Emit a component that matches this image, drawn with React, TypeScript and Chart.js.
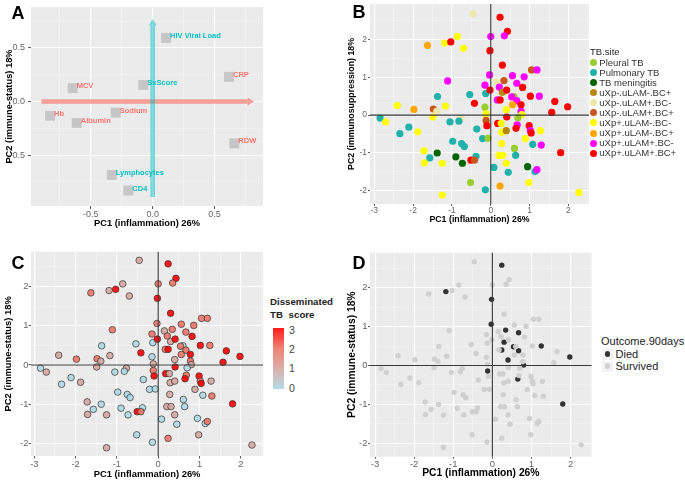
import React, { useEffect, useRef } from "react";
import { Chart, registerables } from "chart.js";
Chart.register(...registerables);

const FONT = '"Liberation Sans", Arial, Helvetica, sans-serif';
Chart.defaults.font.family = FONT;

// ---------- Panel A: PCA loadings ----------
const loadingNames = ["HIV Viral Load", "CRP", "MCV", "SxScore", "Hb", "Albumin", "Sodium", "RDW", "Lymphocytes", "CD4"];
const loadingPC1 = [0.108, 0.617, -0.647, -0.076, -0.83, -0.614, -0.299, 0.66, -0.331, -0.197];
const loadingPC2 = [0.594, 0.231, 0.125, 0.155, -0.133, -0.2, -0.103, -0.391, -0.685, -0.83];
const loadingGroup = [1, 0, 0, 1, 0, 0, 0, 0, 1, 1];
const groupColors = ["#F8766D", "#00BFC4"];
const arrowPC1 = [-0.9, 0.82];
const arrowPC2 = [-0.89, 0.77];
const aMajors = [-0.5, 0, 0.5];
const aMinors = [-0.75, -0.25, 0.25, 0.75];

// ---------- Panels B-D: patient scores ----------
const siteNames = ["Pleural TB", "Pulmonary TB", "TB meningitis", "uXp-.uLAM-.BC+", "uXp-.uLAM+.BC-", "uXp-.uLAM+.BC+", "uXp+.uLAM-.BC-", "uXp+.uLAM-.BC+", "uXp+.uLAM+.BC-", "uXp+.uLAM+.BC+"];
const siteColors = ["#9ACD32", "#20B2AA", "#006400", "#B8860B", "#EEE8AA", "#C8561E", "#FFFF00", "#FFA500", "#FF00FF", "#FF0000"];
const siteScore = [0, 0, 0, 1, 1, 2, 1, 2, 2, 3];
const scoreColors = ["rgba(173,216,230,0.9)", "rgba(214,166,161,0.9)", "rgba(238,116,102,0.9)", "rgba(255,0,0,0.9)"];
const scoreTicks = ["3", "2", "1", "0"];
const outcomeNames = ["Died", "Survived"];
const outcomeColors = ["#333333", "#D0D0D0"];
const bMajors = [-3, -2, -1, 0, 1, 2];
const bMinors = [-2.5, -1.5, -0.5, 0.5, 1.5, 2.5];

const pc1 = [
  -0.46, 0.24, 0.43, 0.0, 0.35, -0.86, -1.19, -1.03, -1.63, -0.7,
  -0.02, 0.3, 1.05, 1.19, -0.03, 0.56, 0.86, -1.11, 0.15, 0.34,
  0.67, -0.15, 0.22, 0.82, -0.54, -0.13, -0.02, 0.3, 0.41, 0.6,
  1.02, 1.25, -1.37, -0.42, 0.17, 0.24, 0.67, 0.56, 0.78, 1.65,
  1.98, 1.57, -2.41, -1.98, -1.48, -1.39, -1.17, -0.15, 0.4, -0.12,
  0.78, 0.8, -2.85, -2.71, -1.49, -0.77, -1.05, -0.82, -0.12, -0.1,
  0.18, 0.41, 0.7, -2.11, -2.34, -1.88, -0.36, 0.29, 0.4, 0.68,
  0.99, 1.02, 1.04, 1.28, -0.21, -0.07, 0.89, -0.98, -0.75, -0.68,
  0.28, 1.08, 1.3, 0.61, -1.72, -1.38, -0.9, -0.38, 0.21, 0.31,
  0.64, 1.8, -1.57, -1.71, -1.25, -0.73, -0.51, -0.42, 0.4, 0.08,
  0.45, 0.95, 1.14, 1.19, -0.52, 0.98, -0.14, 0.24, -1.25, 2.27,
  0.54, 0.65, 0.27,
];
const pc2 = [
  2.67, 2.58, 2.21, 2.07, 2.09, 2.07, 1.9, 1.93, 1.84, 1.76,
  1.7, 1.32, 1.19, 1.19, 1.06, 1.04, 1.01, 0.9, 0.87, 0.91,
  0.84, 0.79, 0.74, 0.73, 0.54, 0.57, 0.66, 0.6, 0.66, 0.49,
  0.5, 0.5, 0.49, 0.31, 0.4, 0.4, 0.38, 0.27, 0.27, 0.36,
  0.22, 0.07, 0.25, 0.15, 0.16, 0.1, 0.24, 0.21, 0.14, 0.03,
  0.1, 0.01, -0.08, -0.18, -0.05, -0.08, -0.18, -0.16, -0.14, -0.28,
  -0.22, -0.05, -0.07, -0.32, -0.49, -0.44, -0.37, -0.45, -0.41, -0.26,
  -0.28, -0.41, -0.47, -0.41, -0.62, -0.61, -0.62, -0.69, -0.75, -0.83,
  -0.75, -0.77, -0.79, -0.88, -0.94, -1.0, -1.1, -1.09, -1.06, -1.06,
  -1.06, -0.99, -1.13, -1.26, -1.27, -1.27, -1.19, -1.19, -1.27, -1.38,
  -1.51, -1.36, -1.49, -1.44, -1.78, -1.78, -1.97, -1.87, -2.11, -2.04,
  0.48, -0.35, -0.22,
];
const site = [
  4, 9, 9, 8, 8, 6, 6, 9, 7, 6,
  9, 9, 5, 8, 8, 8, 8, 8, 4, 5,
  8, 8, 8, 9, 1, 1, 9, 3, 9, 0,
  9, 8, 1, 9, 8, 9, 8, 7, 9, 9,
  9, 9, 6, 7, 5, 4, 6, 0, 6, 6,
  8, 6, 1, 6, 6, 4, 1, 1, 5, 9,
  9, 9, 0, 1, 1, 6, 1, 6, 3, 8,
  9, 8, 9, 6, 1, 0, 6, 1, 1, 1,
  6, 1, 8, 0, 6, 2, 2, 1, 6, 6,
  1, 9, 1, 6, 6, 2, 9, 5, 6, 1,
  1, 2, 1, 8, 0, 6, 1, 7, 6, 6,
  8, 9, 6,
];
const died = [
  0, 1, 0, 0, 0, 0, 1, 0, 0, 0,
  1, 0, 0, 0, 1, 0, 0, 0, 0, 1,
  1, 0, 0, 0, 0, 0, 0, 1, 0, 0,
  0, 1, 0, 0, 0, 1, 1, 0, 0, 0,
  1, 0, 0, 0, 0, 0, 0, 0, 1, 0,
  0, 1, 0, 0, 0, 0, 0, 0, 1, 0,
  0, 0, 0, 0, 0, 0, 0, 0, 0, 0,
  0, 0, 0, 0, 0, 0, 0, 0, 0, 0,
  0, 0, 0, 0, 0, 0, 0, 0, 0, 0,
  0, 1, 0, 0, 0, 0, 0, 0, 0, 0,
  0, 0, 0, 0, 0, 0, 0, 0, 0, 0,
  1, 1, 0,
];

// ---------- helpers ----------
const panelBg = {
  id: "panelBg",
  beforeDraw(chart: any) {
    const { ctx, chartArea: a } = chart;
    ctx.save();
    ctx.fillStyle = "#EBEBEB";
    ctx.fillRect(a.left, a.top, a.right - a.left, a.bottom - a.top);
    ctx.restore();
  },
};

const zeroLines = {
  id: "zeroLines",
  afterDatasetsDraw(chart: any) {
    const { ctx, chartArea: a, scales } = chart;
    const x0 = scales.x.getPixelForValue(0);
    const y0 = scales.y.getPixelForValue(0);
    ctx.save();
    ctx.strokeStyle = "#3a3a3a";
    ctx.lineWidth = 1.1;
    ctx.beginPath();
    ctx.moveTo(x0, a.top);
    ctx.lineTo(x0, a.bottom);
    ctx.moveTo(a.left, y0);
    ctx.lineTo(a.right, y0);
    ctx.stroke();
    ctx.restore();
  },
};

function drawArrow(ctx: any, x0: number, y0: number, x1: number, y1: number, color: string) {
  const ang = Math.atan2(y1 - y0, x1 - x0);
  const head = 6.5, hw = 4;
  const bx = x1 - head * Math.cos(ang), by = y1 - head * Math.sin(ang);
  ctx.strokeStyle = color;
  ctx.lineWidth = 4.6;
  ctx.lineCap = "butt";
  ctx.beginPath();
  ctx.moveTo(x0, y0);
  ctx.lineTo(bx, by);
  ctx.stroke();
  ctx.fillStyle = color;
  ctx.beginPath();
  ctx.moveTo(x1, y1);
  ctx.lineTo(bx - hw * Math.sin(ang), by + hw * Math.cos(ang));
  ctx.lineTo(bx + hw * Math.sin(ang), by - hw * Math.cos(ang));
  ctx.closePath();
  ctx.fill();
}

const arrowsPlugin = {
  id: "pcaArrows",
  beforeDatasetsDraw(chart: any) {
    const { ctx, scales } = chart;
    const { x, y } = scales;
    ctx.save();
    drawArrow(ctx, x.getPixelForValue(arrowPC1[0]), y.getPixelForValue(0), x.getPixelForValue(arrowPC1[1]), y.getPixelForValue(0), "rgba(248,118,109,0.68)");
    drawArrow(ctx, x.getPixelForValue(0), y.getPixelForValue(arrowPC2[0]), x.getPixelForValue(0), y.getPixelForValue(arrowPC2[1]), "rgba(0,191,196,0.5)");
    ctx.restore();
  },
};

const loadingLabels = {
  id: "loadingLabels",
  afterDatasetsDraw(chart: any) {
    const { ctx, scales } = chart;
    ctx.save();
    ctx.font = `bold 7.5px ${FONT}`;
    ctx.textAlign = "left";
    ctx.textBaseline = "middle";
    loadingNames.forEach((n, i) => {
      ctx.fillStyle = groupColors[loadingGroup[i]];
      ctx.fillText(n, scales.x.getPixelForValue(loadingPC1[i]) + 4, scales.y.getPixelForValue(loadingPC2[i]) - 2);
    });
    ctx.restore();
  },
};

function axis(o: any) {
  const all = [...o.majors, ...o.minors].filter((v: number) => v >= o.min && v <= o.max).sort((a: number, b: number) => a - b);
  const isMajor = (v: number) => o.majors.some((m: number) => Math.abs(m - v) < 1e-9);
  const isM = (c: any) => c && c.tick && isMajor(c.tick.value);
  return {
    type: "linear",
    position: o.pos,
    min: o.min,
    max: o.max,
    afterBuildTicks: (s: any) => {
      s.ticks = all.map((v: number) => ({ value: v }));
    },
    afterFit: (s: any) => {
      if (o.pos === "left") s.width = o.size;
      else s.height = o.size;
      s.paddingTop = 0;
      s.paddingBottom = 0;
      s.paddingLeft = 0;
      s.paddingRight = 0;
    },
    ticks: {
      autoSkip: false,
      maxRotation: 0,
      padding: o.tickPad,
      color: "#666",
      font: { family: FONT, size: o.tickFont },
      callback: (v: number) => (isMajor(v) ? o.fmt(v) : ""),
    },
    grid: {
      color: (c: any) => (isM(c) ? "#ffffff" : "rgba(255,255,255,0.6)"),
      lineWidth: (c: any) => (isM(c) ? 1.1 : 0.55),
      drawTicks: true,
      tickLength: o.tickLen,
      tickColor: (c: any) => (isM(c) ? "#555" : "rgba(0,0,0,0)"),
      tickWidth: 1,
    },
    border: { display: false },
    title: {
      display: true,
      text: o.title,
      color: "#000",
      font: { family: FONT, size: o.titleFont, weight: "bold" },
      padding: o.pos === "left" ? { top: o.titlePad, bottom: 0 } : { top: 0, bottom: o.titlePad },
    },
  };
}

function buildOptions(p: any) {
  const lh = p.titleFont * 1.2;
  return {
    responsive: false,
    animation: false,
    events: [],
    layout: { padding: { left: 0, top: p.T - p.cy, right: p.cx + p.cw - p.R, bottom: 0 } },
    plugins: { legend: { display: false }, tooltip: { enabled: false } },
    scales: {
      x: axis({ pos: "bottom", min: p.xMin, max: p.xMax, majors: p.majors, minors: p.minors, fmt: p.fmt, size: p.cy + p.ch - p.B, tickPad: p.xPad, tickLen: p.tickLen, tickFont: p.tickFont, titleFont: p.titleFont, title: p.xTitle, titlePad: p.cy + p.ch - p.xTitleY - lh / 2 }),
      y: axis({ pos: "left", min: p.yMin, max: p.yMax, majors: p.majors, minors: p.minors, fmt: p.fmt, size: p.L - p.cx, tickPad: p.yPad, tickLen: p.tickLen, tickFont: p.tickFont, titleFont: p.titleFont, title: p.yTitle, titlePad: p.yTitleX - p.cx - lh / 2 }),
    },
  };
}

const fmtA = (v: number) => v.toFixed(1);
const fmtB = (v: number) => String(v);

const specA = { cx: 0, cy: 0, cw: 340, ch: 230, L: 31, T: 1, R: 263, B: 206, xMin: -0.984, xMax: 0.892, yMin: -0.975, yMax: 0.882, majors: aMajors, minors: aMinors, fmt: fmtA, xTitle: "PC1 (inflammation) 26%", yTitle: "PC2 (immune-status) 18%", xTitleY: 223.3, yTitleX: 9, tickFont: 9, titleFont: 9.3, tickLen: 3, xPad: 0, yPad: 3 };
const specB = { cx: 340, cy: 0, cw: 260, ch: 230, L: 370, T: 1, R: 589, B: 204, xMin: -3.11, xMax: 2.53, yMin: -2.345, yMax: 2.93, majors: bMajors, minors: bMinors, fmt: fmtB, xTitle: "PC1 (inflammation) 26%", yTitle: "PC2 (immunosuppression) 18%", xTitleY: 219.3, yTitleX: 352, tickFont: 8.5, titleFont: 8.8, tickLen: 2, xPad: 0, yPad: 1 };
const specC = { cx: 0, cy: 230, cw: 268, ch: 251, L: 31, T: 251.7, R: 265, B: 456, xMin: -3.08, xMax: 2.54, yMin: -2.32, yMax: 2.89, majors: bMajors, minors: bMinors, fmt: fmtB, xTitle: "PC1 (inflammation) 26%", yTitle: "PC2 (immune-status) 18%", xTitleY: 474.3, yTitleX: 8.5, tickFont: 9.3, titleFont: 9.4, tickLen: 2.5, xPad: 0, yPad: 0 };
const specD = { cx: 340, cy: 230, cw: 258, ch: 251, L: 370, T: 252.7, R: 591.7, B: 456.7, xMin: -3.13, xMax: 2.54, yMin: -2.345, yMax: 2.9, majors: bMajors, minors: bMinors, fmt: fmtB, xTitle: "PC1 (inflammation) 26%", yTitle: "PC2 (immune-status) 18%", xTitleY: 473.3, yTitleX: 352, tickFont: 9.5, titleFont: 10.3, tickLen: 2, xPad: 0, yPad: 0.5 };

const pts = pc1.map((x, i) => ({ x, y: pc2[i] }));

function configA() {
  return {
    type: "scatter",
    data: {
      datasets: [{
        data: loadingPC1.map((x, i) => ({ x, y: loadingPC2[i] })),
        pointStyle: "rect",
        pointRadius: 7,
        backgroundColor: "rgba(192,192,192,0.85)",
        borderWidth: 0,
      }],
    },
    options: buildOptions(specA),
    plugins: [panelBg, arrowsPlugin, loadingLabels],
  };
}
function configB() {
  return {
    type: "scatter",
    data: { datasets: [{ data: pts, pointRadius: 3.6, borderWidth: 0, backgroundColor: site.map((s) => siteColors[s]) }] },
    options: buildOptions(specB),
    plugins: [panelBg, zeroLines],
  };
}
function configC() {
  return {
    type: "scatter",
    data: { datasets: [{ data: pts, pointRadius: 3.3, borderWidth: 0.9, borderColor: "rgba(45,45,45,0.75)", backgroundColor: site.map((s) => scoreColors[siteScore[s]]) }] },
    options: buildOptions(specC),
    plugins: [panelBg, zeroLines],
  };
}
function configD() {
  const surv = pts.filter((_, i) => !died[i]);
  const dead = pts.filter((_, i) => died[i]);
  return {
    type: "scatter",
    data: {
      datasets: [
        { data: surv, pointRadius: 2.7, borderWidth: 0, backgroundColor: outcomeColors[1] },
        { data: dead, pointRadius: 2.7, borderWidth: 0, backgroundColor: outcomeColors[0] },
      ],
    },
    options: buildOptions(specD),
    plugins: [panelBg, zeroLines],
  };
}

function ChartCanvas({ spec, make }: any) {
  const ref = useRef<HTMLCanvasElement | null>(null);
  useEffect(() => {
    const chart = new Chart(ref.current as any, make() as any);
    return () => chart.destroy();
  }, []);
  return (
    <canvas
      ref={ref}
      width={spec.cw}
      height={spec.ch}
      style={{ position: "absolute", left: spec.cx, top: spec.cy, width: spec.cw, height: spec.ch }}
    />
  );
}

function T({ x, y, fs, bold, color, children, extra }: any) {
  return (
    <div
      style={{
        position: "absolute",
        left: x,
        top: y - fs * 0.5,
        fontSize: fs,
        lineHeight: `${fs}px`,
        fontFamily: FONT,
        fontWeight: bold ? "bold" : "normal",
        color: color || "#000",
        whiteSpace: "nowrap",
        ...(extra || {}),
      }}
    >
      {children}
    </div>
  );
}

function Dot({ cx, cy, r, color }: any) {
  return (
    <div style={{ position: "absolute", left: cx - r, top: cy - r, width: 2 * r, height: 2 * r, borderRadius: "50%", background: color }} />
  );
}

export default function App() {
  return (
    <div style={{ position: "absolute", left: 0, top: 0, width: 685, height: 481, background: "#fff", overflow: "hidden" }}>
      <ChartCanvas spec={specA} make={configA} />
      <ChartCanvas spec={specB} make={configB} />
      <ChartCanvas spec={specC} make={configC} />
      <ChartCanvas spec={specD} make={configD} />

      <T x={11.5} y={12.7} fs={18} bold>A</T>
      <T x={352.5} y={12.2} fs={18} bold>B</T>
      <T x={11.5} y={263} fs={18} bold>C</T>
      <T x={352.5} y={262.5} fs={18} bold>D</T>

      {/* Legend B */}
      <T x={590} y={51.7} fs={9.5} color="#222">TB.site</T>
      {siteNames.map((n, i) => (
        <React.Fragment key={n}>
          <Dot cx={593.3} cy={62.3 + i * 10.1} r={3.5} color={siteColors[i]} />
          <T x={599.3} y={62.3 + i * 10.1} fs={9.5} color="#333">{n}</T>
        </React.Fragment>
      ))}

      {/* Legend C */}
      <T x={270} y={301.5} fs={9.7} bold color="#222">Disseminated</T>
      <T x={270} y={315} fs={9.7} bold color="#222" extra={{ wordSpacing: "3px" }}>TB score</T>
      <div
        style={{
          position: "absolute",
          left: 272.7,
          top: 328,
          width: 11.5,
          height: 61,
          background: `linear-gradient(to bottom, ${scoreColors[3]}, ${scoreColors[2]}, ${scoreColors[1]}, ${scoreColors[0]})`,
        }}
      />
      {scoreTicks.map((t, i) => (
        <T key={t} x={289} y={330 + i * 19.3} fs={10.5} color="#444">{t}</T>
      ))}

      {/* Legend D */}
      <T x={601} y={341.7} fs={11} color="#222">Outcome.90days</T>
      {outcomeNames.map((n, i) => (
        <React.Fragment key={n}>
          <div style={{ position: "absolute", left: 602, top: 348.5 + i * 12, width: 11, height: 11, background: "#F2F2F2" }} />
          <Dot cx={607.5} cy={354 + i * 12} r={2.6} color={outcomeColors[i]} />
          <T x={615.5} y={354 + i * 12} fs={11} color="#222">{n}</T>
        </React.Fragment>
      ))}
    </div>
  );
}
